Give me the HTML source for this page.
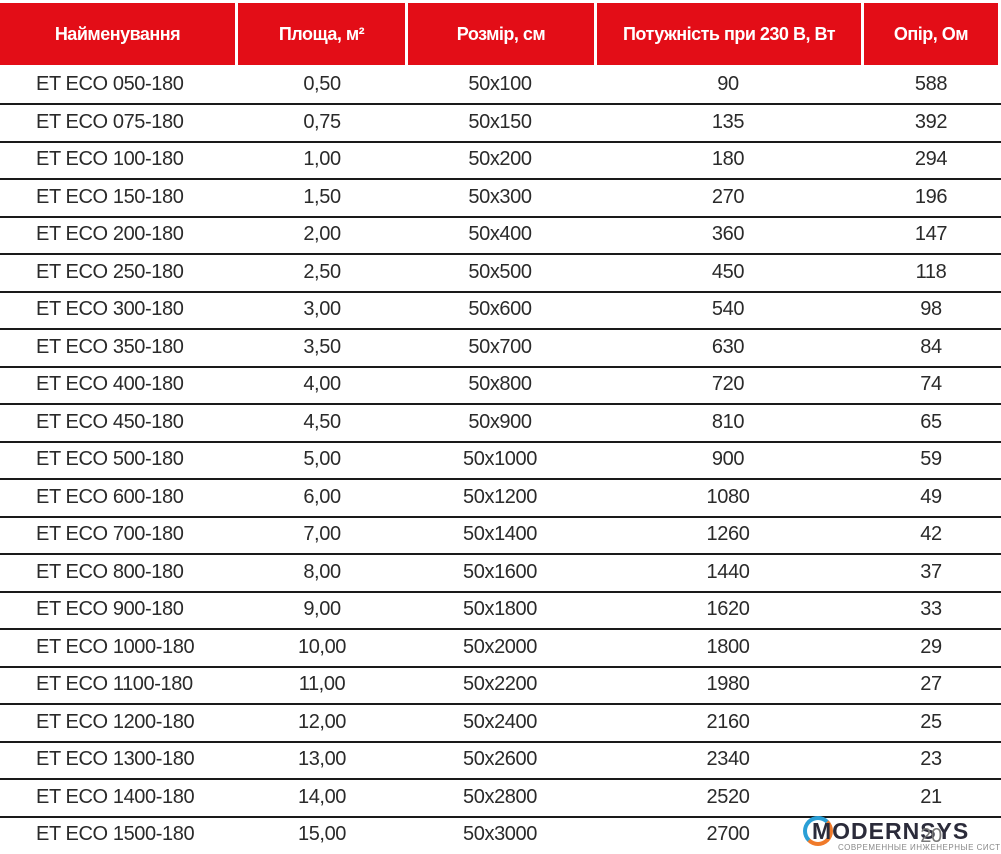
<!DOCTYPE html>
<html><head><meta charset="utf-8"><style>
body{margin:0;width:1001px;height:854px;background:#fff;position:relative;overflow:hidden;font-family:"Liberation Sans",sans-serif;}
.hd{position:absolute;top:3px;height:62px;background:#e30d17;color:#fff;font-size:18px;font-weight:bold;display:flex;align-items:center;justify-content:center;letter-spacing:-0.5px}
.ln{position:absolute;left:0;width:1001px;height:2px;background:#1a1a1a}
.t{position:absolute;font-size:20px;color:#2a2a2a;line-height:24px;white-space:nowrap;letter-spacing:-0.4px}
.c{transform:translateX(-50%)}
</style></head><body>
<div class="hd" style="left:0;width:235px">Найменування</div>
<div class="hd" style="left:238px;width:167px">Площа, м²</div>
<div class="hd" style="left:408px;width:186px">Розмір, см</div>
<div class="hd" style="left:597px;width:264px">Потужність при 230 В, Вт</div>
<div class="hd" style="left:864px;width:134px">Опір, Ом</div>
<div id="rows"></div>
<script>
var d=[["050",.5,100,90,588],["075",.75,150,135,392],["100",1,200,180,294],["150",1.5,300,270,196],["200",2,400,360,147],["250",2.5,500,450,118],["300",3,600,540,98],["350",3.5,700,630,84],["400",4,800,720,74],["450",4.5,900,810,65],["500",5,1000,900,59],["600",6,1200,1080,49],["700",7,1400,1260,42],["800",8,1600,1440,37],["900",9,1800,1620,33],["1000",10,2000,1800,29],["1100",11,2200,1980,27],["1200",12,2400,2160,25],["1300",13,2600,2340,23],["1400",14,2800,2520,21],["1500",15,3000,2700,""]];
var h="";
for(var i=0;i<d.length;i++){
 var y=84+37.5*i-12;
 var r=d[i];
 h+='<div class="t" style="left:36px;top:'+y+'px">ET ECO '+r[0]+'-180</div>';
 h+='<div class="t c" style="left:322px;top:'+y+'px">'+r[1].toFixed(2).replace(".",",")+'</div>';
 h+='<div class="t c" style="left:500px;top:'+y+'px">50x'+r[2]+'</div>';
 h+='<div class="t c" style="left:728px;top:'+y+'px">'+r[3]+'</div>';
 h+='<div class="t c" style="left:931px;top:'+y+'px">'+r[4]+'</div>';
 if(i<20)h+='<div class="ln" style="top:'+(103+37.5*i)+'px"></div>';
}
document.getElementById("rows").innerHTML=h;
</script>
<div style="position:absolute;left:803px;top:816px;width:30px;height:30px;border-radius:50%;border:4px solid #2a9fd6;border-right-color:#f07a2a;border-bottom-color:#f07a2a;box-sizing:border-box"></div>
<div style="position:absolute;left:812px;top:818px;font-size:23px;font-weight:bold;color:#2b2b3a;letter-spacing:1px;white-space:nowrap">MODERNSYS</div>
<div style="position:absolute;left:838px;top:843px;font-size:8px;color:#888;letter-spacing:0.5px;white-space:nowrap">СОВРЕМЕННЫЕ ИНЖЕНЕРНЫЕ СИСТЕМЫ</div>
<div class="t c" style="left:931px;top:824px;color:#777">20</div>
</body></html>
